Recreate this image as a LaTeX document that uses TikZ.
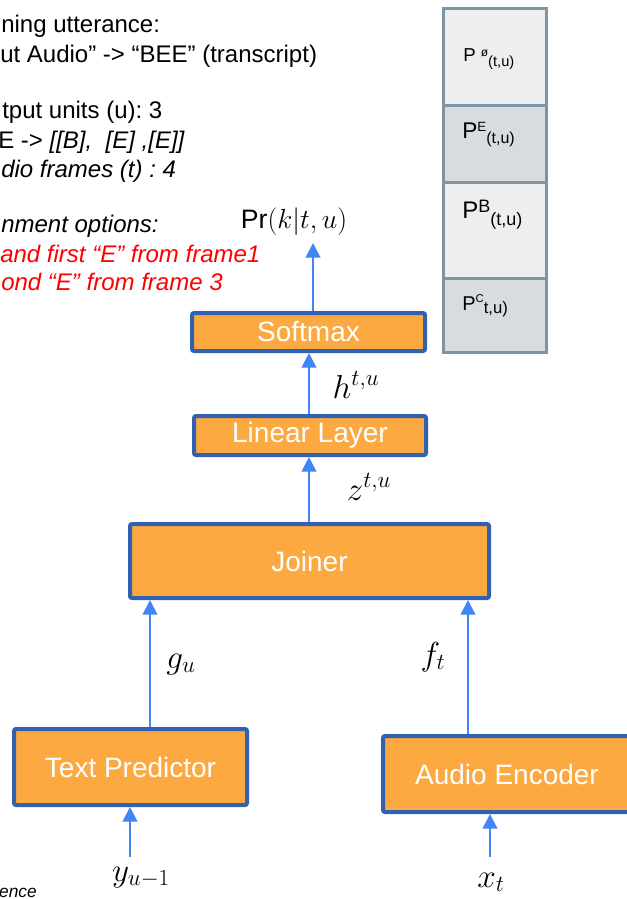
\documentclass[tikz,border=0pt]{standalone}
\usepackage{fontspec}
\setmainfont{Liberation Sans}
\usetikzlibrary{arrows.meta}

\definecolor{boxfill}{RGB}{252,169,65}
\definecolor{boxline}{RGB}{49,97,176}
\definecolor{arrowblue}{RGB}{66,133,244}
\definecolor{celllight}{RGB}{237,238,240}
\definecolor{celldark}{RGB}{214,220,223}
\definecolor{cellline}{RGB}{128,149,163}
\definecolor{alertred}{RGB}{255,0,0}

\newcommand{\sz}[1]{\fontsize{#1pt}{#1pt}\selectfont}
\newcommand{\up}[3]{\raisebox{#1pt}{\sz{#2}#3}}
\frenchspacing

\begin{document}
\begin{tikzpicture}[x=0.75pt, y=-0.75pt,
  block/.style={draw=boxline, line width=3pt, fill=boxfill, rounded corners=1.5pt,
    text=white, font=\sz{21}, inner sep=0pt},
  arr/.style={draw=arrowblue, line width=1.5pt, -{Triangle[length=11pt,width=11pt]}},
  cell/.style={draw=cellline, line width=2.25pt, inner sep=0pt, minimum width=77.25pt},
  note/.style={anchor=base west, inner sep=0pt, font=\sz{18}},
  mlbl/.style={anchor=base, inner sep=0pt, font=\sz{23}},
  ptext/.style={anchor=base west, inner sep=0pt}]

\useasboundingbox (0,0) rectangle (627,899);
\clip (0,0) rectangle (627,899);
\fill[white] (0,0) rectangle (627,899);

% description of the training example
\node[note] (n1) at (1,33)  {ning utterance:};
\node[note] (n2) at (0,63)  {ut Audio” -> “BEE” (transcript)};
\node[note] (n3) at (2,118) {tput units (u): 3};
\node[note] (n4) at (-2,148) {E -> \textit{[[B],\ \ [E] ,[E]]}};
\node[note] (n5) at (1,177) {\itshape dio frames (t) : 4};
\node[note] (n6) at (1,232) {\itshape nment options:};
\node[note, text=alertred] (n7) at (0,262) {\itshape and first “E” from frame1};
\node[note, text=alertred] (n8) at (1,290) {\itshape ond “E” from frame 3};
\node[anchor=base east, inner sep=0pt, font=\sz{13}\itshape] (n9) at (37,897) {ence};

% output distribution column
\node[cell, fill=celllight, minimum height=72.375pt] (c1) at (495,56.75) {};
\node[cell, fill=celldark,  minimum height=57.75pt]  (c2) at (495,143.5) {};
\node[cell, fill=celllight, minimum height=72pt]     (c3) at (495,230) {};
\node[cell, fill=celldark,  minimum height=55.875pt] (c4) at (495,315.25) {};

\node[ptext] (p1) at (463,62)  {\sz{14}P \up{4}{9}{ø}\up{-3}{11}{(t,u)}};
\node[ptext] (p2) at (462,138) {\sz{17}P\up{5}{10}{E}\up{-3.75}{12}{(t,u)}};
\node[ptext] (p3) at (462,218) {\sz{18}P\up{4}{13.5}{B}\up{-5.25}{13.5}{(t,u)}};
\node[ptext] (p4) at (462,310) {\sz{15}P\up{6}{8.5}{C}\up{-2.5}{12.5}{t,u)}};

% network blocks
\node[block, minimum width=174.75pt, minimum height=28.5pt] (softmax) at (308.5,332) {Softmax};
\node[block, minimum width=174pt, minimum height=29.25pt]   (linear)  at (310,435.5) {Linear Layer};
\node[block, minimum width=269.25pt, minimum height=55.5pt] (joiner)  at (309.5,561) {Joiner};
\node[block, minimum width=174.75pt, minimum height=57pt]   (textpred) at (130.5,767) {Text Predictor};
\node[block, minimum width=186pt, minimum height=57pt]      (audioenc) at (507,774) {Audio Encoder};

% labels
\node[anchor=base, inner sep=0pt] (pr) at (294,228) {\sz{20}Pr$(k|t,u)$};
\node[mlbl] (h)  at (356,398) {$h^{t,u}$};
\node[mlbl] (z)  at (369,500) {$z^{t,u}$};
\node[mlbl] (g)  at (181,668) {$g_u$};
\node[mlbl] (f)  at (433,665) {$f_t$};
\node[mlbl] (y)  at (141,881) {$y_{u-1}$};
\node[mlbl] (xx) at (491,887) {$x_t$};

% connector columns and free ends
\coordinate (prtip) at (313,243);
\coordinate (midcol) at (309,0);
\coordinate (gcol) at (150,0);
\coordinate (fcol) at (468,0);
\coordinate (yin) at (130,857);
\coordinate (xin) at (490,857);

\draw[arr] (softmax.north -| prtip) -- (prtip);
\draw[arr] (linear.north -| midcol) -- (softmax.south -| midcol);
\draw[arr] (joiner.north -| midcol) -- (linear.south -| midcol);
\draw[arr] (textpred.north -| gcol) -- (joiner.south -| gcol);
\draw[arr] (audioenc.north -| fcol) -- (joiner.south -| fcol);
\draw[arr] (yin) -- (textpred.south -| yin);
\draw[arr] (xin) -- (audioenc.south -| xin);
\end{tikzpicture}
\end{document}
